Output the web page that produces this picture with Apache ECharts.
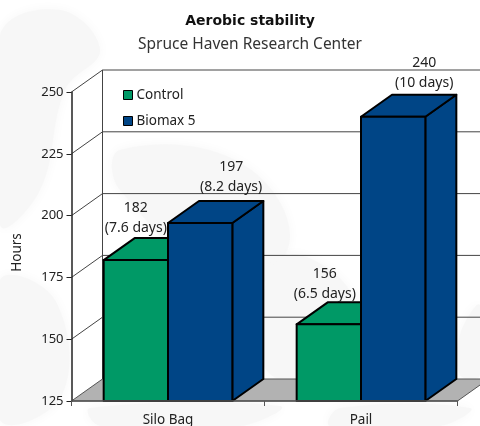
<!DOCTYPE html>
<html><head><meta charset="utf-8">
<style>html,body{margin:0;padding:0;background:#fff}#c{width:480px;height:426px}</style>
<script src="https://cdn.jsdelivr.net/npm/echarts@6/dist/echarts.min.js"></script>
</head><body><div id="c"></div>
<script>
const categories = ['Silo Bag', 'Pail'];
const seriesNames = ['Control', 'Biomax 5'];
const controlHours = [182, 156];
const biomaxHours = [197, 240];
const controlDays = ['7.6 days', '6.5 days'];
const biomaxDays = ['8.2 days', '10 days'];
const yTicks = [125, 150, 175, 200, 225, 250];

const DX = 31, DY = 22, FONT = '"Noto Sans"';
const chart = echarts.init(document.getElementById('c'));

function bar3d(seriesIdx, color, days, labelShift) {
  return function (params, api) {
    const i = api.value(0), v = api.value(1);
    const c = api.coord([i, v]), base = api.coord([i, 125]);
    const band = api.size([1, 0])[0], w = band / 3;
    const l = c[0] + (seriesIdx === 0 ? -w : 0), r = l + w, t = c[1], b = base[1];
    const shape = { stroke: '#000', lineWidth: 2, lineJoin: 'round' };
    const poly = pts => ({ type: 'polygon', shape: { points: pts }, style: Object.assign({ fill: color }, shape) });
    const s = labelShift[i];
    return { type: 'group', children: [
      poly([[r, b], [r + DX, b - DY], [r + DX, t - DY], [r, t]]),
      poly([[l, t], [l + DX, t - DY], [r + DX, t - DY], [r, t]]),
      poly([[l, t], [r, t], [r, b], [l, b]]),
      { type: 'text', z2: 10, style: { text: v + '\n(' + days[i] + ')', x: (l + r) / 2 + s[0], y: t - DY + s[1],
        align: 'center', verticalAlign: 'bottom', fill: '#222', font: '14px ' + FONT, lineHeight: 20 } }
    ]};
  };
}

const soft = { fill: '#f7f7f7', shadowBlur: 12, shadowColor: '#f7f7f7' };
const blob = pts => ({ type: 'polygon', silent: true, z: -10, shape: { points: pts, smooth: 0.4 }, style: soft });

chart.setOption({
  animation: false,
  backgroundColor: '#fff',
  title: {
    left: 245, top: 9, textAlign: 'center', itemGap: 9,
    text: 'Aerobic stability', subtext: 'Spruce Haven Research Center',
    textStyle: { fontFamily: '"DejaVu Sans"', fontSize: 14, fontWeight: 'bold', color: '#111' },
    subtextStyle: { fontFamily: FONT, fontSize: 15.5, color: '#333' }
  },
  graphic: { elements: [
    blob([[0,35],[60,10],[100,50],[65,90],[40,190],[0,225]]),
    blob([[0,280],[55,300],[62,395],[0,420]]),
    blob([[120,150],[235,160],[290,235],[240,290],[120,190]]),
    blob([[268,275],[300,255],[355,300],[355,372],[268,372]]),
    blob([[460,335],[480,305],[480,375],[460,375]]),
    blob([[90,408],[280,406],[240,426],[100,426]]),
    blob([[340,408],[470,408],[440,426],[330,426]])
  ]},
  legend: {
    orient: 'vertical', left: 118, top: 83, itemWidth: 9, itemHeight: 9, itemGap: 12,
    data: seriesNames, icon: 'rect',
    textStyle: { fontFamily: FONT, fontSize: 13.5, color: '#222', padding: [0, 0, 0, -1] },
    itemStyle: { borderColor: '#000', borderWidth: 1 }
  },
  grid: { left: 71.5, top: 92, width: 386, height: 309, containLabel: false, outerBoundsMode: 'none' },
  xAxis: {
    type: 'category', data: categories, z: 5,
    axisLine: { lineStyle: { color: '#555', width: 1.5 } },
    axisTick: { show: true, length: 5, alignWithLabel: false, lineStyle: { color: '#555' } },
    axisLabel: { fontFamily: FONT, fontSize: 13.5, color: '#222', margin: 12 }
  },
  yAxis: {
    type: 'value', min: 125, max: 250, interval: 25, z: 5,
    name: 'Hours', nameLocation: 'middle', nameGap: 47, nameRotate: 90,
    nameTextStyle: { fontFamily: FONT, fontSize: 13.5, color: '#222', padding: [0, 12, 0, 0] },
    axisLine: { show: true, lineStyle: { color: '#222', width: 1.5 } },
    axisTick: { show: true, length: 5, lineStyle: { color: '#222' } },
    axisLabel: { fontFamily: FONT, fontSize: 13, color: '#222', margin: 8 },
    splitLine: { show: false }
  },
  series: [
    { type: 'custom', silent: true, legendHoverLink: false, z: 1, encode: { x: 0, y: 1 },
      data: yTicks.map(v => [0, v]),
      renderItem(params, api) {
        const v = api.value(1), band = api.size([1, 0])[0];
        const p = api.coord([0, v]), x0 = p[0] - band / 2, y = p[1];
        const x1 = x0 + band * categories.length;
        const top = api.coord([0, 250])[1], bot = api.coord([0, 125])[1];
        const ln = (a, b, w) => ({ type: 'line', shape: { x1: a[0], y1: a[1], x2: b[0], y2: b[1] }, style: { stroke: '#444', lineWidth: w } });
        const kids = [];
        if (v === 125) {
          kids.push({ type: 'polygon', shape: { points: [[x0, top], [x0 + DX, top - DY], [x0 + DX, bot - DY], [x0, bot]] }, style: { fill: '#fff' } });
          kids.push({ type: 'polygon', shape: { points: [[x0, bot], [x0 + DX, bot - DY], [x1 + DX, bot - DY], [x1, bot]] }, style: { fill: '#b2b2b2', stroke: '#555', lineWidth: 1 } });
          kids.push(ln([x0 + DX, top - DY], [x0 + DX, bot - DY], 1));
        } else {
          kids.push(ln([x0, y], [x0 + DX, y - DY], 1));
          kids.push(ln([x0 + DX, y - DY], [x1 + DX, y - DY], 1));
        }
        return { type: 'group', children: kids };
      }
    },
    { type: 'custom', name: seriesNames[0], z: 3, itemStyle: { color: '#009966' }, encode: { x: 0, y: 1 },
      data: controlHours.map((v, i) => [i, v]),
      renderItem: bar3d(0, '#009966', controlDays, [[0, 0], [-4, 2]]) },
    { type: 'custom', name: seriesNames[1], z: 4, itemStyle: { color: '#004586' }, encode: { x: 0, y: 1 },
      data: biomaxHours.map((v, i) => [i, v]),
      renderItem: bar3d(1, '#004586', biomaxDays, [[31, -4], [31, -2]]) }
  ]
});
</script></body></html>
